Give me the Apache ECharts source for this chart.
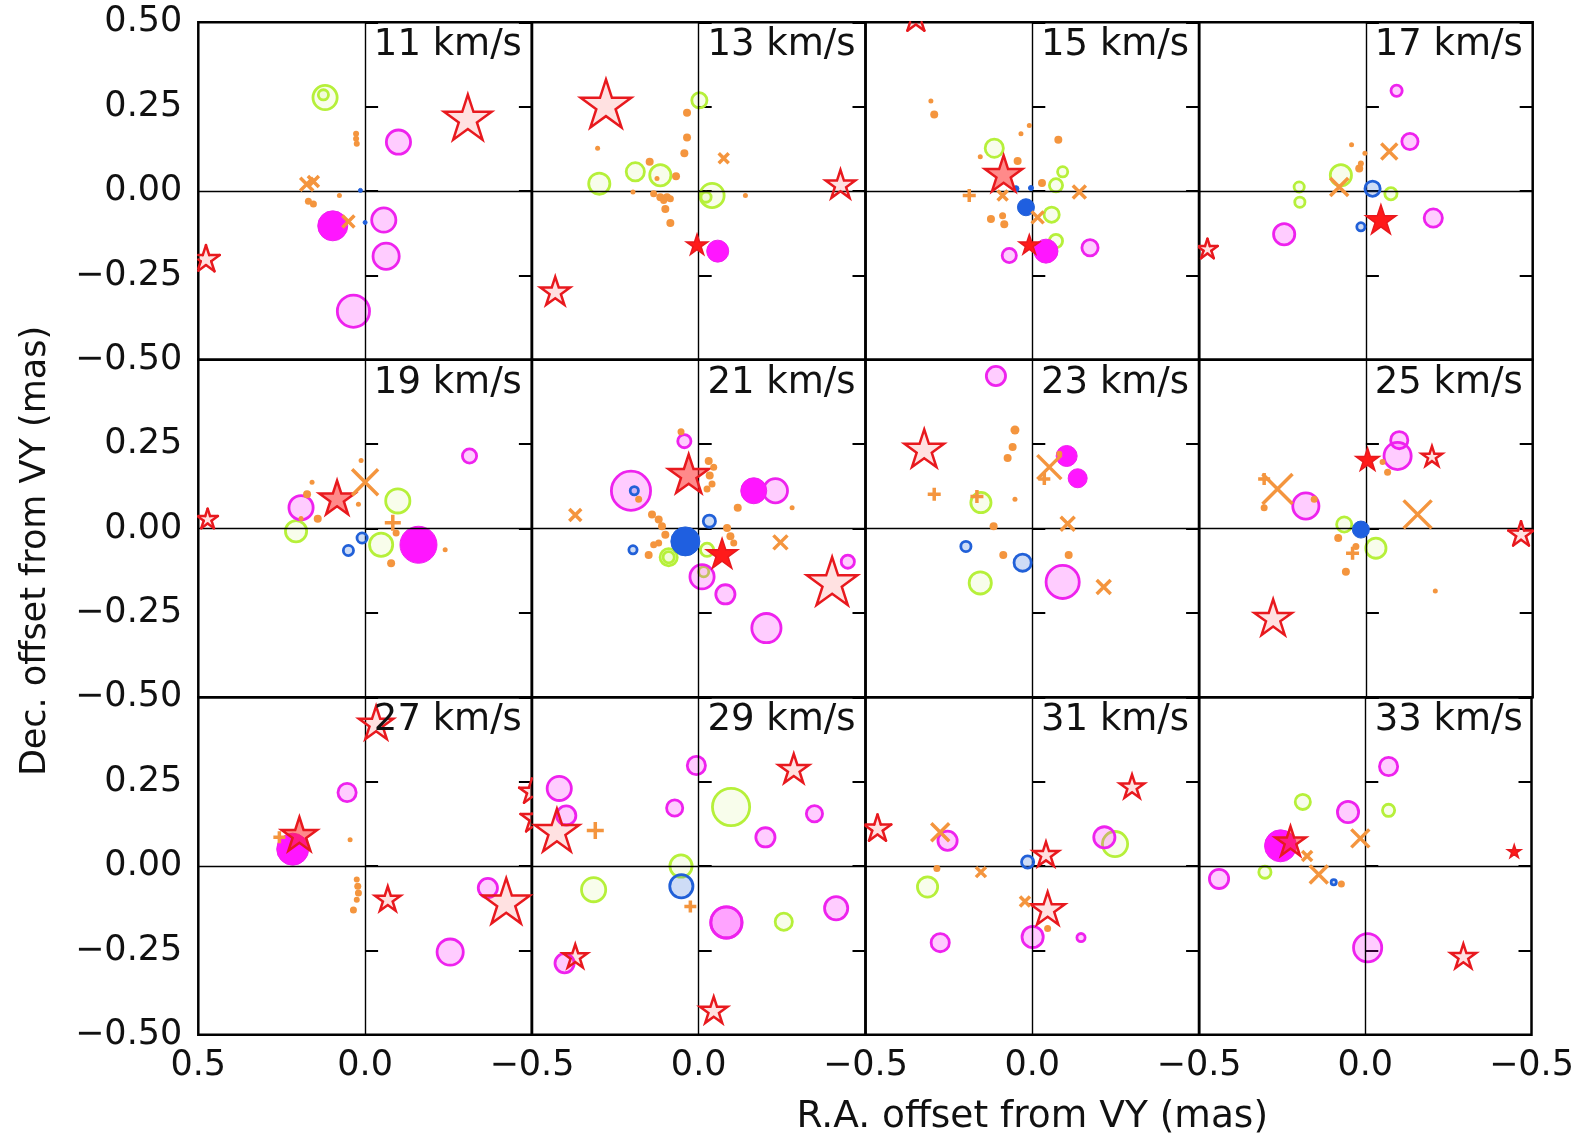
<!DOCTYPE html>
<html>
<head>
<meta charset="utf-8">
<script src="https://cdn.jsdelivr.net/npm/echarts/dist/echarts.min.js"></script>
<style>
  html, body { margin: 0; padding: 0; background: #fff; }
  #chart { width: 1577px; height: 1136px; }
</style>
</head>
<body>
<div id="chart"></div>
<script>
// Channel velocities (km/s), one panel each, read left-to-right, top-to-bottom
const velocities = [11, 13, 15, 17, 19, 21, 23, 25, 27, 29, 31, 33];
const xTickValues = [0.5, 0.0, -0.5];
const yTickValues = [0.5, 0.25, 0.0, -0.25, -0.5];

// Each spot: [velocity, R.A. offset (mas), Dec. offset (mas), marker size]
const pinkRings = [
  [11, -0.056, -0.086, 27], [11, -0.063, -0.193, 29], [11, 0.035, -0.356, 35], [11, -0.10, 0.145, 27],
  [15, 0.069, -0.191, 17], [15, -0.173, -0.168, 19],
  [17, -0.092, 0.297, 14], [17, -0.132, 0.147, 19], [17, -0.202, -0.08, 21], [17, 0.245, -0.128, 24],
  [19, 0.192, 0.062, 27], [19, -0.313, 0.215, 17],
  [21, 0.043, 0.259, 16], [21, 0.203, 0.112, 42], [21, -0.23, 0.112, 27], [21, -0.01, -0.143, 27],
  [21, -0.08, -0.195, 22], [21, -0.203, -0.295, 32], [21, -0.447, -0.098, 16],
  [23, 0.109, 0.452, 22], [23, -0.091, -0.158, 36],
  [25, -0.10, 0.262, 20], [25, -0.095, 0.215, 30], [25, 0.18, 0.067, 29],
  [27, 0.054, 0.218, 21], [27, -0.368, -0.065, 22], [27, -0.255, -0.255, 29],
  [29, 0.007, 0.298, 21], [29, 0.418, 0.23, 27], [29, 0.397, 0.15, 22], [29, 0.072, 0.172, 19],
  [29, -0.347, 0.155, 19], [29, -0.2, 0.085, 22], [29, -0.083, -0.167, 34], [29, -0.083, -0.167, 34],
  [29, -0.412, -0.125, 26], [29, 0.402, -0.288, 22],
  [31, 0.254, 0.075, 22], [31, -0.216, 0.085, 24], [31, -0.001, -0.21, 24], [31, -0.146, -0.212, 11], [31, 0.276, -0.227, 21],
  [33, -0.07, 0.295, 21], [33, 0.052, 0.16, 24], [33, 0.44, -0.038, 22], [33, -0.007, -0.242, 31]
];
const pinkDiscs = [
  [11, 0.097, -0.103, 31], [13, -0.057, -0.178, 23], [15, -0.041, -0.178, 25], [19, -0.16, -0.048, 38],
  [21, -0.165, 0.112, 27], [23, -0.103, 0.215, 22], [23, -0.136, 0.149, 20], [27, 0.217, 0.05, 33],
  [33, 0.255, 0.06, 33]
];
const limeRings = [
  [11, 0.12, 0.277, 27], [11, 0.125, 0.285, 13],
  [13, -0.002, 0.269, 18], [13, 0.298, 0.022, 24], [13, 0.19, 0.057, 21], [13, 0.115, 0.047, 24],
  [13, -0.04, -0.013, 27], [13, -0.022, -0.018, 13],
  [15, 0.114, 0.127, 21], [15, -0.091, 0.057, 13], [15, -0.071, 0.017, 16], [15, -0.058, -0.07, 18], [15, -0.071, -0.148, 16],
  [17, 0.075, 0.047, 24], [17, 0.2, 0.012, 13], [17, 0.198, -0.033, 13], [17, -0.075, -0.008, 15],
  [19, -0.098, 0.082, 27], [19, 0.207, -0.008, 24], [19, -0.048, -0.048, 26],
  [21, 0.09, -0.085, 20], [21, 0.09, -0.085, 14], [21, -0.025, -0.063, 16], [21, -0.015, -0.128, 13],
  [23, 0.154, 0.077, 23], [23, 0.156, -0.161, 25],
  [25, 0.065, 0.012, 18], [25, -0.03, -0.058, 23],
  [29, -0.097, 0.175, 40], [29, 0.053, 0.0, 25], [29, 0.315, -0.07, 27], [29, -0.255, -0.165, 20],
  [31, -0.248, 0.065, 28], [31, 0.314, -0.062, 23],
  [33, 0.188, 0.19, 18], [33, -0.07, 0.165, 15], [33, 0.302, -0.018, 15]
];
const blueRings = [
  [17, -0.02, 0.007, 18], [17, 0.015, -0.106, 11],
  [19, 0.009, -0.028, 13], [19, 0.05, -0.065, 13],
  [21, -0.032, 0.022, 15], [21, 0.197, -0.063, 11], [21, 0.193, 0.112, 11],
  [23, 0.199, -0.053, 13], [23, 0.029, -0.101, 20],
  [29, 0.052, -0.06, 26], [31, 0.014, 0.012, 15], [33, 0.095, -0.048, 8]
];
const blueDiscs = [
  [11, 0.014, 0.002, 5], [11, 0.0, -0.093, 5],
  [15, 0.049, 0.007, 7], [15, 0.004, 0.009, 6], [15, 0.019, -0.048, 18],
  [21, 0.04, -0.038, 30], [25, 0.015, -0.003, 18]
];
const starsOpen = [
  [11, -0.308, 0.212, 50], [11, 0.477, -0.203, 30],
  [13, 0.278, 0.252, 53], [13, -0.425, 0.017, 32], [13, 0.43, -0.30, 32],
  [15, 0.349, 0.51, 30],
  [17, 0.475, -0.173, 23], [19, 0.472, 0.027, 23],
  [21, -0.40, -0.163, 53], [23, 0.324, 0.232, 42],
  [25, -0.198, 0.212, 23], [25, -0.465, -0.018, 28], [25, 0.278, -0.268, 40],
  [27, -0.033, 0.42, 37], [27, -0.068, -0.10, 28], [27, -0.423, -0.11, 50], [27, -0.50, 0.22, 28], [27, -0.51, 0.14, 32],
  [29, -0.285, 0.285, 33], [29, 0.425, 0.10, 47], [29, 0.37, -0.27, 27], [29, -0.045, -0.43, 30],
  [31, -0.299, 0.233, 27], [31, 0.464, 0.11, 30], [31, -0.041, 0.032, 28], [31, -0.046, -0.13, 37],
  [33, -0.295, -0.27, 28]
];
const starsTinted = [
  [15, 0.086, 0.047, 40], [19, 0.084, 0.087, 38], [21, 0.03, 0.157, 43], [27, 0.197, 0.09, 38], [33, 0.225, 0.07, 33]
];
const starsSolid = [
  [13, 0.005, -0.161, 23], [15, 0.009, -0.161, 22], [17, -0.045, -0.088, 32],
  [21, -0.07, -0.078, 33], [25, -0.005, 0.202, 25], [33, -0.448, 0.042, 15]
];
const orangeCrosses = [
  [11, 0.175, 0.02, 13], [11, 0.155, 0.028, 11], [11, 0.05, -0.09, 12],
  [13, -0.075, 0.097, 10],
  [15, 0.089, -0.013, 10], [15, -0.141, -0.003, 13], [15, -0.016, -0.078, 12],
  [17, -0.07, 0.117, 16], [17, 0.08, 0.012, 18],
  [19, 0.0, 0.137, 26],
  [21, 0.37, 0.04, 12], [21, -0.245, -0.041, 14],
  [23, -0.051, 0.182, 24], [23, -0.106, 0.014, 14], [23, -0.214, -0.173, 14],
  [25, 0.265, 0.117, 30], [25, -0.155, 0.042, 28],
  [31, 0.276, 0.10, 18], [31, 0.154, -0.018, 10], [31, 0.022, -0.105, 10],
  [33, 0.015, 0.082, 18], [33, 0.175, 0.03, 10], [33, 0.14, -0.025, 18]
];
const orangePluses = [
  [15, 0.189, -0.013, 13], [19, -0.083, 0.017, 16],
  [23, 0.294, 0.102, 13], [23, 0.166, 0.095, 13], [23, -0.036, 0.147, 12],
  [25, 0.305, 0.147, 12], [25, 0.04, -0.073, 13],
  [27, 0.257, 0.085, 12],
  [29, 0.31, 0.105, 17], [29, 0.025, -0.12, 12]
];
const orangeDots = [
  [11, 0.027, 0.17, 6], [11, 0.027, 0.155, 6], [11, 0.025, 0.14, 6], [11, 0.17, -0.03, 7], [11, 0.155, -0.038, 7], [11, 0.077, -0.013, 5],
  [13, 0.035, 0.232, 8], [13, 0.035, 0.159, 8], [13, 0.043, 0.112, 8], [13, 0.303, 0.127, 5], [13, 0.147, 0.087, 8],
  [13, 0.068, 0.044, 8], [13, 0.125, 0.037, 5], [13, 0.197, -0.003, 5], [13, 0.135, -0.008, 7], [13, 0.115, -0.018, 8],
  [13, 0.095, -0.018, 8], [13, 0.105, -0.028, 7], [13, 0.085, -0.023, 7], [13, 0.10, -0.053, 8], [13, 0.085, -0.095, 8], [13, -0.14, -0.013, 5],
  [15, 0.304, 0.267, 5], [15, 0.294, 0.227, 8], [15, 0.009, 0.194, 5], [15, 0.034, 0.17, 5], [15, -0.078, 0.152, 8],
  [15, 0.156, 0.102, 5], [15, 0.044, 0.089, 8], [15, -0.029, 0.024, 8], [15, 0.124, -0.083, 8], [15, 0.089, -0.073, 7], [15, 0.084, -0.098, 8],
  [17, 0.043, 0.137, 5], [17, 0.003, 0.112, 5], [17, 0.02, 0.067, 8], [17, 0.015, 0.082, 6],
  [19, 0.012, 0.202, 5], [19, 0.159, 0.137, 5], [19, 0.174, 0.102, 8], [19, 0.02, 0.072, 5], [19, 0.142, 0.029, 8],
  [19, 0.192, 0.03, 5], [19, -0.093, -0.013, 7], [19, -0.078, -0.103, 8], [19, -0.24, -0.063, 5],
  [21, 0.053, 0.287, 7], [21, -0.03, 0.20, 8], [21, -0.045, 0.182, 7], [21, -0.033, 0.157, 8], [21, -0.04, 0.132, 7],
  [21, -0.025, 0.117, 7], [21, 0.18, 0.087, 7], [21, -0.117, 0.062, 8], [21, -0.28, 0.062, 5], [21, 0.14, 0.042, 8],
  [21, 0.12, 0.027, 8], [21, 0.11, 0.007, 8], [21, 0.10, -0.018, 8], [21, 0.12, -0.043, 7], [21, 0.135, -0.048, 7],
  [21, 0.15, -0.078, 8], [21, -0.085, 0.002, 8], [21, -0.095, -0.023, 8], [21, -0.105, -0.043, 7],
  [23, 0.052, 0.292, 9], [23, 0.059, 0.242, 8], [23, 0.074, 0.209, 8], [23, -0.081, 0.222, 6], [23, 0.052, 0.087, 5],
  [23, 0.116, 0.007, 8], [23, 0.087, -0.078, 8], [23, -0.109, -0.078, 8],
  [25, -0.05, 0.197, 6], [25, -0.065, 0.167, 7], [25, 0.305, 0.062, 7], [25, 0.155, 0.087, 7], [25, 0.083, -0.028, 8],
  [25, 0.06, -0.128, 8], [25, 0.03, -0.053, 7], [25, -0.208, -0.185, 5],
  [27, 0.045, 0.078, 5], [27, 0.025, -0.04, 6], [27, 0.022, -0.06, 7], [27, 0.02, -0.08, 7], [27, 0.025, -0.10, 6], [27, 0.035, -0.13, 7],
  [31, 0.286, -0.007, 7], [31, -0.046, -0.185, 7],
  [33, 0.072, -0.053, 7]
];

// Panel layout (pixels)
const PLOT_LEFT = 198.3, PLOT_TOP = 22.3, PANEL_W = 333.6, PANEL_H = 337.5;
const COLS = 4, ROWS = 3;
const FONT = 'DejaVu Sans';
const INK = '#111';

const XMARK_PATH = 'M0,0L10,10M0,10L10,0';
const PLUS_PATH = 'M5,0L5,10M0,5L10,5';
const STAR_WIDTH_PER_R = 1.902;   // tip-to-tip width of a unit star
const STAR_INNER = 0.382;

const RED = '#e8191e', MAGENTA = '#ee22ee', LIME = '#b6f03a', BLUE = '#2160d8', ORANGE = '#f4953e';

const layers = [
  { data: limeRings, shape: 'circle', z: 3, style: { fill: 'rgba(182,240,58,0.10)', stroke: LIME, lineWidth: 2.8 } },
  { data: pinkRings, shape: 'circle', z: 4, style: { fill: 'rgba(255,0,255,0.20)', stroke: MAGENTA, lineWidth: 2.8 } },
  { data: pinkDiscs, shape: 'circle', z: 4, style: { fill: '#ff16ff', stroke: MAGENTA, lineWidth: 1 } },
  { data: blueRings, shape: 'circle', z: 5, style: { fill: 'rgba(33,96,216,0.22)', stroke: BLUE, lineWidth: 2.8 } },
  { data: blueDiscs, shape: 'circle', z: 5, style: { fill: '#1f5fe0', stroke: BLUE, lineWidth: 1 } },
  { data: starsOpen, shape: 'star', z: 6, style: { fill: 'rgba(255,40,40,0.14)', stroke: RED, lineWidth: 2.5 } },
  { data: starsTinted, shape: 'star', z: 6, style: { fill: 'rgba(255,30,30,0.52)', stroke: RED, lineWidth: 2.5 } },
  { data: starsSolid, shape: 'star', z: 6, style: { fill: '#ff1a1a', stroke: RED, lineWidth: 1.5 } },
  { data: orangeCrosses, shape: XMARK_PATH, z: 7, style: { fill: 'none', stroke: ORANGE, lineWidth: 3.5 } },
  { data: orangePluses, shape: PLUS_PATH, z: 7, style: { fill: 'none', stroke: ORANGE, lineWidth: 3.5 } },
  { data: orangeDots, shape: 'circle', z: 7, style: { fill: ORANGE, stroke: null, lineWidth: 0 } }
];

// ---- clipping helpers: markers are cut at the panel frame ----
function clipPolygon(poly, rc) {
  const [x0, y0, x1, y1] = rc;
  const bounds = [
    { inside: p => p[0] >= x0, cut: (a, b) => { const t = (x0 - a[0]) / (b[0] - a[0]); return [x0, a[1] + t * (b[1] - a[1])]; } },
    { inside: p => p[0] <= x1, cut: (a, b) => { const t = (x1 - a[0]) / (b[0] - a[0]); return [x1, a[1] + t * (b[1] - a[1])]; } },
    { inside: p => p[1] >= y0, cut: (a, b) => { const t = (y0 - a[1]) / (b[1] - a[1]); return [a[0] + t * (b[0] - a[0]), y0]; } },
    { inside: p => p[1] <= y1, cut: (a, b) => { const t = (y1 - a[1]) / (b[1] - a[1]); return [a[0] + t * (b[0] - a[0]), y1]; } }
  ];
  let out = poly;
  for (const bd of bounds) {
    const inp = out;
    out = [];
    if (!inp.length) break;
    for (let i = 0; i < inp.length; i++) {
      const cur = inp[i], prev = inp[(i + inp.length - 1) % inp.length];
      const ci = bd.inside(cur), pi = bd.inside(prev);
      if (ci) { if (!pi) out.push(bd.cut(prev, cur)); out.push(cur); }
      else if (pi) out.push(bd.cut(prev, cur));
    }
  }
  return out;
}
function clipSegment(a, b, rc) {
  const [x0, y0, x1, y1] = rc;
  let t0 = 0, t1 = 1;
  const dx = b[0] - a[0], dy = b[1] - a[1];
  const p = [-dx, dx, -dy, dy], q = [a[0] - x0, x1 - a[0], a[1] - y0, y1 - a[1]];
  for (let i = 0; i < 4; i++) {
    if (p[i] === 0) { if (q[i] < 0) return null; }
    else {
      const t = q[i] / p[i];
      if (p[i] < 0) { if (t > t1) return null; if (t > t0) t0 = t; }
      else { if (t < t0) return null; if (t < t1) t1 = t; }
    }
  }
  return [a[0] + t0 * dx, a[1] + t0 * dy, a[0] + t1 * dx, a[1] + t1 * dy];
}
function polygonElement(poly, rc, st) {
  const xs = poly.map(p => p[0]), ys = poly.map(p => p[1]);
  const inside = Math.min(...xs) >= rc[0] && Math.max(...xs) <= rc[2] && Math.min(...ys) >= rc[1] && Math.max(...ys) <= rc[3];
  if (inside) {
    return { type: 'polygon', shape: { points: poly }, style: { fill: st.fill, stroke: st.stroke, lineWidth: st.lineWidth, lineJoin: 'miter' } };
  }
  const clipped = clipPolygon(poly, rc);
  if (clipped.length < 3) return null;
  const children = [{ type: 'polygon', shape: { points: clipped }, style: { fill: st.fill, stroke: null } }];
  if (st.stroke) {
    for (let i = 0; i < poly.length; i++) {
      const seg = clipSegment(poly[i], poly[(i + 1) % poly.length], rc);
      if (seg) {
        children.push({ type: 'line', shape: { x1: seg[0], y1: seg[1], x2: seg[2], y2: seg[3] },
                        style: { stroke: st.stroke, lineWidth: st.lineWidth, lineCap: 'round' } });
      }
    }
  }
  return { type: 'group', children: children };
}
function starOutline(cx, cy, R) {
  const pts = [];
  for (let k = 0; k < 10; k++) {
    const ang = -Math.PI / 2 + k * Math.PI / 5;
    const rad = k % 2 ? R * STAR_INNER : R;
    pts.push([cx + rad * Math.cos(ang), cy + rad * Math.sin(ang)]);
  }
  return pts;
}
function circleOutline(cx, cy, r) {
  const pts = [];
  for (let k = 0; k < 64; k++) {
    const ang = k * Math.PI * 2 / 64;
    pts.push([cx + r * Math.cos(ang), cy + r * Math.sin(ang)]);
  }
  return pts;
}

// panel frame in pixels, found from the axis extremes
function panelRect(api) {
  const xv = xTickValues, yv = yTickValues;
  const a = api.coord([xv[0], yv[0]]);
  const b = api.coord([xv[xv.length - 1], yv[yv.length - 1]]);
  return [Math.min(a[0], b[0]), Math.min(a[1], b[1]), Math.max(a[0], b[0]), Math.max(a[1], b[1])];
}

function markerRenderer(layer) {
  const st = layer.style;
  return function (params, api) {
    const p = api.coord([api.value(0), api.value(1)]);
    const s = api.value(2);
    const rc = panelRect(api);
    if (layer.shape === 'circle') {
      const r = Math.max(1, (s - st.lineWidth) / 2);
      if (p[0] - r >= rc[0] && p[0] + r <= rc[2] && p[1] - r >= rc[1] && p[1] + r <= rc[3]) {
        return { type: 'circle', shape: { cx: p[0], cy: p[1], r: r }, style: { fill: st.fill, stroke: st.stroke, lineWidth: st.lineWidth } };
      }
      return polygonElement(circleOutline(p[0], p[1], r), rc, st);
    }
    if (layer.shape === 'star') {
      const R = (s - st.lineWidth) / STAR_WIDTH_PER_R;
      return polygonElement(starOutline(p[0], p[1], R), rc, st);
    }
    return {
      type: 'path',
      shape: { pathData: layer.shape, layout: 'cover', x: p[0] - s / 2, y: p[1] - s / 2, width: s, height: s },
      style: { fill: 'none', stroke: st.stroke, lineWidth: st.lineWidth }
    };
  };
}

const minus = s => s.replace('-', '\u2212');

const grids = [], xAxes = [], yAxes = [], series = [], graphics = [];

velocities.forEach((v, g) => {
  const r = Math.floor(g / COLS), c = g % COLS;
  const left = PLOT_LEFT + c * PANEL_W, top = PLOT_TOP + r * PANEL_H;
  grids.push({
    left: left, top: top, width: PANEL_W, height: PANEL_H,
    show: true, borderColor: '#000', borderWidth: 2.5, backgroundColor: 'transparent'
  });
  xAxes.push({
    gridIndex: g, type: 'value', min: -0.5, max: 0.5, interval: 0.5, inverse: true,
    axisLine: { show: false }, axisTick: { show: false }, splitLine: { show: false },
    axisLabel: {
      show: r === ROWS - 1, margin: 14, fontSize: 35, fontFamily: FONT, color: INK,
      formatter: val => (c > 0 && val === 0.5) ? '' : minus((Math.abs(val) < 1e-9 ? 0 : val).toFixed(1))
    }
  });
  const yBase = {
    gridIndex: g, type: 'value', min: -0.5, max: 0.5, interval: 0.25,
    axisLine: { show: false }, splitLine: { show: false },
    axisTick: { show: true, inside: true, length: 13, lineStyle: { color: '#000', width: 2 } }
  };
  yAxes.push(Object.assign({}, yBase, {
    position: 'left',
    axisLabel: {
      show: c === 0, margin: 16, fontSize: 35, fontFamily: FONT, color: INK,
      formatter: val => (r > 0 && val === 0.5) ? '' : minus((Math.abs(val) < 1e-9 ? 0 : val).toFixed(2))
    }
  }));
  yAxes.push(Object.assign({}, yBase, { position: 'right', axisLabel: { show: false } }));

  // zero lines through each panel
  series.push({
    type: 'scatter', xAxisIndex: g, yAxisIndex: 2 * g, data: [], silent: true, z: 1,
    markLine: {
      silent: true, symbol: ['none', 'none'], label: { show: false }, animation: false,
      lineStyle: { color: '#000', width: 1.4, type: 'solid' },
      emphasis: { disabled: true },
      data: [{ xAxis: 0 }, { yAxis: 0 }]
    }
  });

  layers.forEach(layer => {
    const pts = layer.data.filter(d => d[0] === v).map(d => [d[1], d[2], d[3]]);
    if (!pts.length) return;
    series.push({
      type: 'custom', xAxisIndex: g, yAxisIndex: 2 * g, data: pts, silent: true, z: layer.z,
      clip: false,
      encode: { x: 0, y: 1 },
      renderItem: markerRenderer(layer)
    });
  });

  graphics.push({
    type: 'text', x: left + PANEL_W - 10, y: top + 5, z: 100,
    style: { text: v + ' km/s', fontSize: 37, fontFamily: FONT, fill: INK, align: 'right', verticalAlign: 'top' }
  });
});

graphics.push({
  type: 'text', x: PLOT_LEFT + 2.5 * PANEL_W, y: 1098, z: 100,
  style: { text: 'R.A. offset from VY (mas)', fontSize: 37.5, fontFamily: FONT, fill: INK, align: 'center', verticalAlign: 'top' }
});
graphics.push({
  type: 'text', x: 36, y: 551, rotation: Math.PI / 2, z: 100,
  style: { text: 'Dec. offset from VY (mas)', fontSize: 35, fontFamily: FONT, fill: INK, align: 'center', verticalAlign: 'middle' }
});

const chart = echarts.init(document.getElementById('chart'), null, { renderer: 'canvas' });
chart.setOption({
  animation: false,
  backgroundColor: '#fff',
  grid: grids,
  xAxis: xAxes,
  yAxis: yAxes,
  series: series,
  graphic: graphics
});
</script>
</body>
</html>
